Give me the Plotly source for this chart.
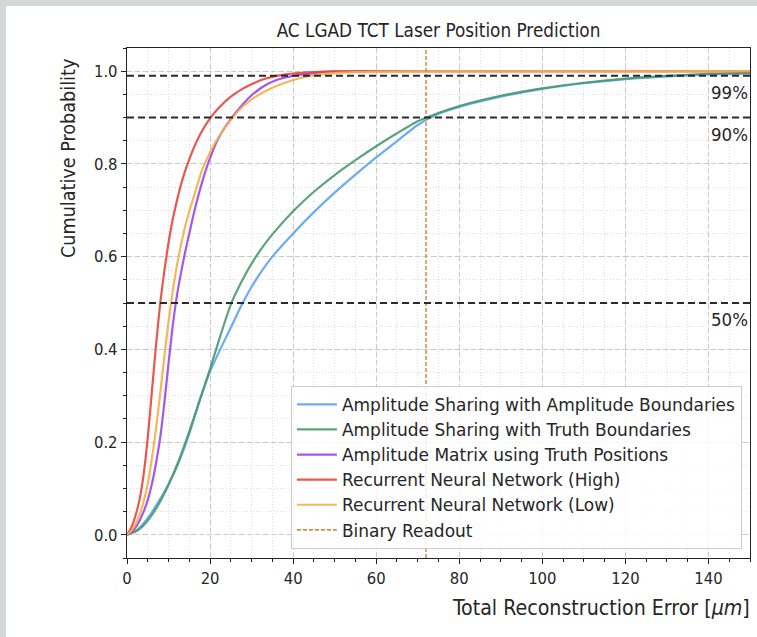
import plotly.graph_objects as go

# ---------------- data ----------------
title = "AC LGAD TCT Laser Position Prediction"
x_label = "Total Reconstruction Error [<i>μm</i>]"
y_label = "Cumulative Probability"

names = [
    "Amplitude Sharing with Amplitude Boundaries",
    "Amplitude Sharing with Truth Boundaries",
    "Amplitude Matrix using Truth Positions",
    "Recurrent Neural Network (High)",
    "Recurrent Neural Network (Low)",
]
colors = ["#5aa5f5", "#4c9a6e", "#9b45e8", "#e8453c", "#f4b04a"]

error_grid = [0, 2.5, 5, 7.5, 10, 12.5, 15, 17.5, 20, 22.5, 25, 27.5, 30, 32.5, 35, 40, 45, 50, 55, 60, 65, 70,
              75, 80, 90, 100, 110, 120, 130, 140, 150]
amp_amp_y = [0, 0.011, 0.036, 0.07, 0.109, 0.157, 0.218, 0.29, 0.352, 0.401, 0.447, 0.494, 0.535, 0.57, 0.6,
             0.65, 0.696, 0.738, 0.777, 0.814, 0.849, 0.884, 0.908, 0.923, 0.945, 0.962, 0.974, 0.983, 0.989,
             0.993, 0.996]
amp_truth_y = [0, 0.009, 0.031, 0.064, 0.108, 0.161, 0.223, 0.29, 0.358, 0.43, 0.497, 0.545, 0.585, 0.619, 0.648,
               0.698, 0.74, 0.776, 0.808, 0.838, 0.866, 0.892, 0.91, 0.925, 0.947, 0.963, 0.975, 0.984, 0.99,
               0.994, 0.996]

matrix_x = [0, 1, 2, 3, 4, 5, 6, 7, 8, 9, 10, 11, 12, 13, 14, 15, 16, 18, 20, 22, 25, 28, 30, 33, 36, 40, 45, 50,
            60, 80, 100, 120, 150]
matrix_y = [0, 0.005, 0.015, 0.03, 0.05, 0.075, 0.11, 0.155, 0.21, 0.285, 0.37, 0.45, 0.515, 0.565, 0.61, 0.65,
            0.69, 0.758, 0.813, 0.855, 0.897, 0.93, 0.948, 0.968, 0.981, 0.99, 0.996, 0.999, 1.0, 1.0, 1.0, 1.0,
            1.0]

rnn_high_x = [0, 1, 2, 3, 4, 5, 6, 7, 8, 9, 10, 11, 12, 13, 14, 15, 16, 18, 20, 22, 25, 28, 30, 33, 36, 40, 45,
              50, 60, 80, 100, 120, 150]
rnn_high_y = [0, 0.015, 0.04, 0.075, 0.13, 0.21, 0.31, 0.41, 0.5, 0.57, 0.63, 0.68, 0.72, 0.755, 0.785, 0.81,
              0.833, 0.87, 0.898, 0.92, 0.945, 0.963, 0.972, 0.983, 0.99, 0.995, 0.998, 0.9995, 1.0, 1.0, 1.0,
              1.0, 1.0]

rnn_low_x = [0, 1, 2, 3, 4, 5, 6, 7, 8, 9, 10, 11, 12, 13, 14, 15, 16, 18, 20, 22, 25, 28, 31, 35, 40, 44, 50,
             60, 70, 90, 110, 130, 150]
rnn_low_y = [0, 0.008, 0.022, 0.042, 0.072, 0.11, 0.165, 0.23, 0.305, 0.385, 0.46, 0.525, 0.58, 0.625, 0.665,
             0.698, 0.727, 0.785, 0.825, 0.857, 0.895, 0.925, 0.945, 0.964, 0.981, 0.99, 0.996, 0.999, 1.0, 1.0,
             1.0, 1.0, 1.0]

series_x = [error_grid, error_grid, matrix_x, rnn_high_x, rnn_low_x]
series_y = [amp_amp_y, amp_truth_y, matrix_y, rnn_high_y, rnn_low_y]

binary_name = "Binary Readout"
binary_readout = 72
binary_color = "#d9893b"

ref_levels = [0.99, 0.9, 0.5]
ref_labels = ["99%", "90%", "50%"]

x_ticks = [0, 20, 40, 60, 80, 100, 120, 140]
y_ticks = [0.0, 0.2, 0.4, 0.6, 0.8, 1.0]
y_tick_text = ["0.0", "0.2", "0.4", "0.6", "0.8", "1.0"]
x_range = [0, 150]
y_range = [-0.05, 1.05]

FONT = "DejaVu Sans Condensed, DejaVu Sans"
LEG_FONT = "DejaVu Sans"
TXT = "#262626"

# ---------------- figure ----------------
fig = go.Figure()
for i in range(len(names)):
    fig.add_trace(go.Scatter(
        x=series_x[i], y=series_y[i], mode="lines", name=names[i],
        line=dict(color=colors[i], width=2.2, shape="spline", smoothing=0.6),
        opacity=0.9,
    ))

# legend entry for binary readout (line drawn with add_vline)
fig.add_trace(go.Scatter(
    x=[None], y=[None], mode="lines", name=binary_name,
    line=dict(color=binary_color, width=1.6, dash="4px,2px"),
))
fig.add_vline(x=binary_readout, line=dict(color=binary_color, width=1.5, dash="4px,2px"), layer="above")

for lev, lab in zip(ref_levels, ref_labels):
    fig.add_hline(y=lev, line=dict(color="#2a2a2a", width=2, dash="7px,4px"), layer="above")
    fig.add_annotation(x=x_range[1], y=lev, xref="x", yref="y", text=lab, showarrow=False,
                       xanchor="right", yanchor="top", yshift=-4,
                       font=dict(family=FONT, size=18.5, color=TXT))

# gray frame of the screenshot (top and left bands)
W, H = 757, 637
L, R, T, B = 127, 7, 48, 79
pw, ph = W - L - R, H - T - B
frame = "#d5d6d8"
fig.add_shape(type="rect", xref="paper", yref="paper", x0=-L / pw, x1=(W - L) / pw,
              y0=(ph + T - 6) / ph, y1=(ph + T) / ph, fillcolor=frame, line_width=0, layer="below")
fig.add_shape(type="rect", xref="paper", yref="paper", x0=-L / pw, x1=(6 - L) / pw,
              y0=-B / ph, y1=(ph + T) / ph, fillcolor=frame, line_width=0, layer="below")

axis_common = dict(
    showline=True, linecolor="#222", linewidth=1.3, mirror=True,
    ticks="outside", ticklen=5, tickwidth=1.2, tickcolor="#222",
    showgrid=True, gridcolor="#c9c9c9", gridwidth=1, griddash="5px,3px",
    zeroline=False, tickfont=dict(family=FONT, size=16.5, color=TXT),
)
fig.update_xaxes(range=x_range, tickvals=x_ticks, **axis_common,
                 minor=dict(dtick=5, showgrid=True, gridcolor="#dedede", griddash="1px,2px",
                            ticks="outside", ticklen=3, tickcolor="#222"))
fig.update_yaxes(range=y_range, tickvals=y_ticks, ticktext=y_tick_text, **axis_common,
                 minor=dict(dtick=0.05, tick0=0, showgrid=True, gridcolor="#dedede", griddash="1px,2px",
                            ticks="outside", ticklen=3, tickcolor="#222"))

fig.add_annotation(x=1.003, y=(558 - 607) / ph, xref="paper", yref="paper", text=x_label,
                   showarrow=False, xanchor="right", yanchor="middle",
                   font=dict(family=FONT, size=21.2, color=TXT))
fig.add_annotation(x=(68 - L) / pw, y=(558 - 159) / ph, xref="paper", yref="paper", text=y_label,
                   showarrow=False, textangle=-90, xanchor="center", yanchor="middle",
                   font=dict(family=FONT, size=19.6, color=TXT))

fig.update_layout(
    width=W, height=H,
    margin=dict(l=L, r=R, t=T, b=B),
    paper_bgcolor="white", plot_bgcolor="white",
    title=dict(text=title, x=0.5, xref="paper", y=1 - 30 / H, yanchor="middle",
               font=dict(family=FONT, size=18.8, color=TXT)),
    legend=dict(x=0.987, y=0.018, xanchor="right", yanchor="bottom",
                bgcolor="rgba(255,255,255,0.85)", bordercolor="#cccccc", borderwidth=1,
                font=dict(family=LEG_FONT, size=17, color=TXT), itemwidth=40),
    font=dict(family=FONT, color=TXT),
)

fig.write_html("out.html")
